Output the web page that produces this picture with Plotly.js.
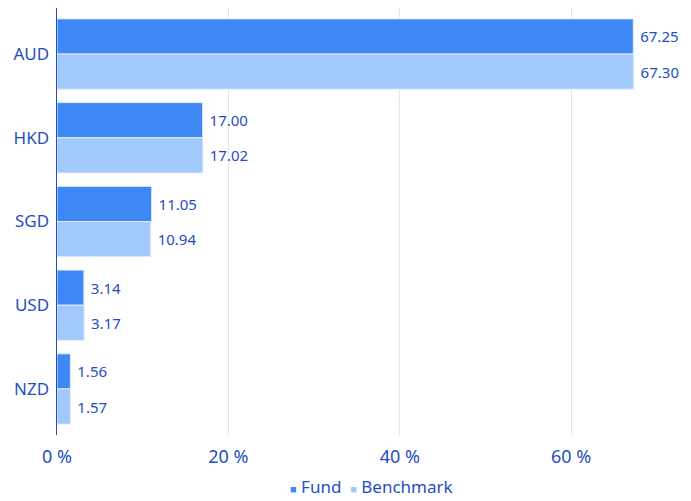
<!DOCTYPE html>
<html>
<head>
<meta charset="utf-8">
<script src="https://cdn.plot.ly/plotly-3.0.1.min.js"></script>
<style>html,body{margin:0;padding:0;background:#fff;}#chart{width:691px;height:501px;}</style>
</head>
<body>
<div id="chart"></div>
<script>
const categories = ["AUD", "HKD", "SGD", "USD", "NZD"];
const fundValues = [67.25, 17.00, 11.05, 3.14, 1.56];
const benchmarkValues = [67.30, 17.02, 10.94, 3.17, 1.57];
const tickValues = [0, 20, 40, 60];
const tickLabels = ["0 %", "20 %", "40 %", "60 %"];
const seriesNames = ["Fund", "Benchmark"];

const textColor = "#1f4fbf";
const fundColor = "#3d88f5";
const benchColor = "#a1c9fb";
const fontFamily = "Noto Sans, Open Sans, sans-serif";

const traces = [
  {
    type: "bar", orientation: "h", name: seriesNames[0],
    y: categories, x: fundValues,
    marker: {color: fundColor, line: {color: "#e3edfd", width: 1}},
    text: fundValues.map(v => "\u00a0" + v.toFixed(2)), textposition: "outside",
    textfont: {color: textColor, size: 15, family: fontFamily},
    cliponaxis: false, hoverinfo: "none", showlegend: false
  },
  {
    type: "bar", orientation: "h", name: seriesNames[1],
    y: categories, x: benchmarkValues,
    marker: {color: benchColor, line: {color: "#e3edfd", width: 1}},
    text: benchmarkValues.map(v => "\u00a0" + v.toFixed(2)), textposition: "outside",
    textfont: {color: textColor, size: 15, family: fontFamily},
    cliponaxis: false, hoverinfo: "none", showlegend: false
  }
];

const legendText =
  '<span style="color:' + fundColor + ';font-size:11px">■</span> ' + seriesNames[0] +
  '  <span style="color:' + benchColor + ';font-size:11px">■</span> ' + seriesNames[1];

const layout = {
  width: 691, height: 501,
  margin: {l: 57, r: 17, t: 8, b: 66},
  barmode: "group", bargap: 0.16, bargroupgap: 0,
  paper_bgcolor: "#fff", plot_bgcolor: "#fff",
  font: {family: fontFamily, color: textColor, size: 17},
  xaxis: {
    range: [0, 72], tickvals: tickValues, ticktext: tickLabels,
    showgrid: true, gridcolor: "#dfe8f6", gridwidth: 1,
    zeroline: false, showline: false, ticks: "",
    ticklabelstandoff: 9,
    tickfont: {size: 18, color: textColor}
  },
  yaxis: {
    type: "category", categoryorder: "array", categoryarray: categories,
    range: [4.55, -0.55],
    showline: true, linecolor: "#1f4fbf", linewidth: 1.5,
    showgrid: false, zeroline: false, ticks: "",
    ticklabelstandoff: 3,
    tickfont: {size: 17, color: textColor}
  },
  showlegend: false,
  annotations: [{
    xref: "paper", yref: "paper", x: (371 - 57) / 617, y: (501 - 66 - 487) / 427,
    xanchor: "center", yanchor: "middle", showarrow: false,
    text: legendText, font: {size: 17, color: textColor, family: fontFamily}
  }]
};

Plotly.newPlot("chart", traces, layout, {displayModeBar: false, staticPlot: true});
</script>
</body>
</html>
